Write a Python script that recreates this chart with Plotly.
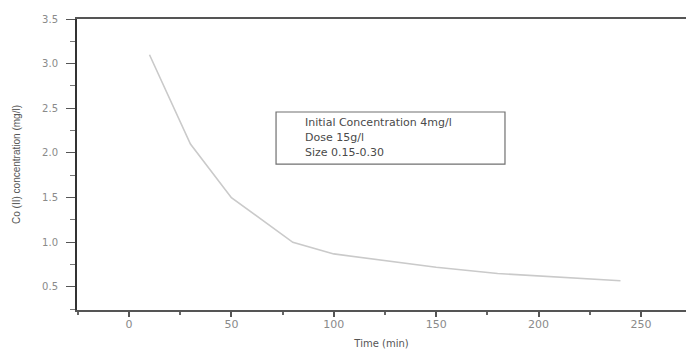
import plotly.graph_objects as go

# Data
time_min = [10, 30, 50, 80, 100, 120, 150, 180, 210, 240]
conc_mgl = [3.10, 2.10, 1.50, 1.00, 0.87, 0.81, 0.72, 0.65, 0.61, 0.57]

info_lines = ["Initial Concentration 4mg/l", "Dose 15g/l", "Size 0.15-0.30"]

x_title = "Time (min)"
y_title = "Co (II) concentration (mg/l)"

fig = go.Figure()
fig.add_trace(go.Scatter(
    x=time_min, y=conc_mgl, mode="lines",
    line=dict(color="#cacaca", width=1.6),
    showlegend=False, hoverinfo="skip",
))

# Text box
fig.add_shape(type="rect", xref="x", yref="y",
              x0=71.8, x1=183.6, y0=1.876, y1=2.459,
              line=dict(color="#707070", width=1.2), fillcolor="rgba(0,0,0,0)")
line_y = [2.336, 2.168, 2.011]
for txt, yy in zip(info_lines, line_y):
    fig.add_annotation(x=85, y=yy, xref="x", yref="y", text=txt,
                       showarrow=False, xanchor="left", yanchor="middle",
                       font=dict(family="DejaVu Sans", size=11, color="#4a4a4a"))

fig.update_layout(
    width=686, height=351,
    margin=dict(l=77, r=0, t=19, b=41),
    paper_bgcolor="white", plot_bgcolor="white",
    xaxis=dict(
        range=[-25.4, 272], tick0=0, dtick=50,
        ticks="outside", ticklen=5, tickwidth=1.5, tickcolor="#555555",
        showline=True, linecolor="#555555", linewidth=1.5, mirror=True,
        showgrid=False, zeroline=False, ticklabelstandoff=-2,
        tickfont=dict(family="DejaVu Sans", size=11, color="#8a8a8a"),
        minor=dict(dtick=25, ticks="outside", ticklen=3, tickcolor="#666666", showgrid=False),
        title=dict(text=x_title, standoff=10,
                   font=dict(family="DejaVu Sans", size=10, color="#555555")),
    ),
    yaxis=dict(
        range=[0.242, 3.5], tick0=0.5, dtick=0.5, tickformat=".1f",
        ticks="outside", ticklen=9, tickwidth=1.2, tickcolor="#555555",
        showline=True, linecolor="#333333", linewidth=2,
        showgrid=False, zeroline=False, ticklabelstandoff=6,
        tickfont=dict(family="DejaVu Sans", size=10, color="#8a8a8a"),
        minor=dict(dtick=0.25, ticks="outside", ticklen=5, tickcolor="#777777", showgrid=False),
        title=dict(text=y_title, standoff=20,
                   font=dict(family="Liberation Sans", size=10, color="#555555")),
    ),
)

fig.write_html("out.html")
